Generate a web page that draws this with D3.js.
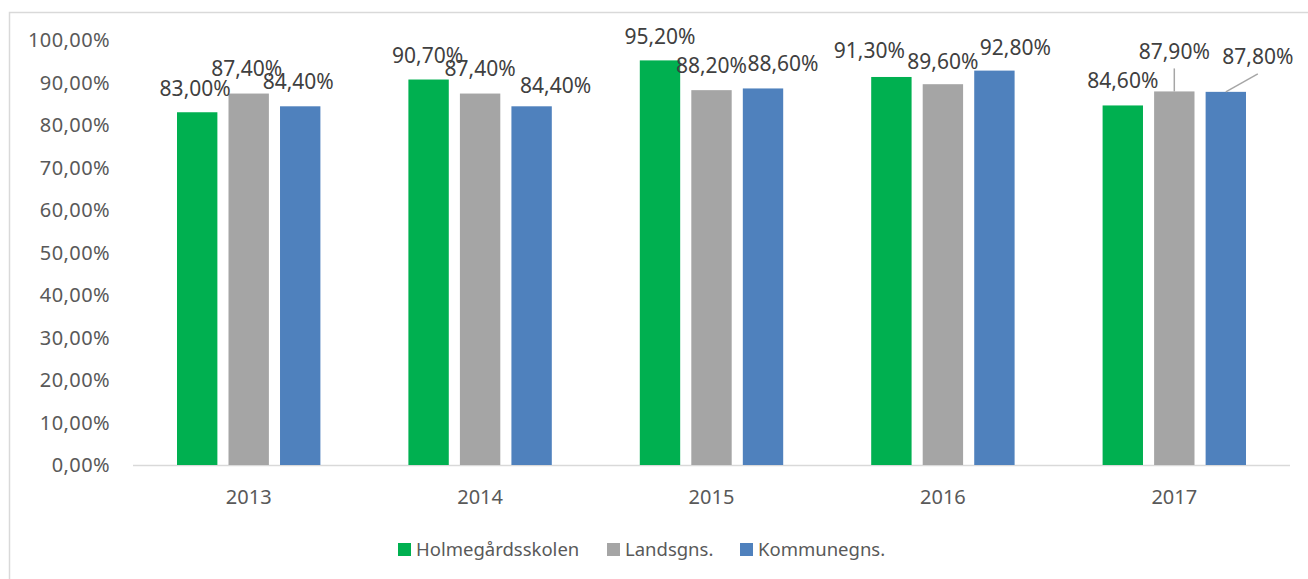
<!DOCTYPE html>
<html>
<head>
<meta charset="utf-8">
<script src="https://cdn.jsdelivr.net/npm/d3@7"></script>
<style>
  html, body { margin: 0; padding: 0; background: #fff; }
  svg text { font-family: "Noto Sans", "Open Sans", sans-serif; }
</style>
</head>
<body>
<div id="chart"></div>
<script>
// data
const years = ["2013", "2014", "2015", "2016", "2017"];
const seriesNames = ["Holmegårdsskolen", "Landsgns.", "Kommunegns."];
const holmegaard = [0.830, 0.907, 0.952, 0.913, 0.846];
const landsgns = [0.874, 0.874, 0.882, 0.896, 0.879];
const kommunegns = [0.844, 0.844, 0.886, 0.928, 0.878];
const yTicks = [0, 0.1, 0.2, 0.3, 0.4, 0.5, 0.6, 0.7, 0.8, 0.9, 1.0];

const seriesValues = [holmegaard, landsgns, kommunegns];
const colors = ["#00b050", "#a5a5a5", "#4f81bd"];

// manual label offsets (label layout, per series per year)
const labelNudge = [
  [[-2, 0], [-1, 0], [0, 0], [-22, -3], [0, -1]],
  [[-2, -1], [0, -1], [0, -1], [0, 1], [0, -16]],
  [[-2, -1], [24, 3], [20, -1], [21, 1], [32, -11]]
];

const width = 1308, height = 579;
const svg = d3.select("#chart").append("svg")
  .attr("width", width)
  .attr("height", height);

// outer chart border
svg.append("rect")
  .attr("x", 9.5).attr("y", 12.5)
  .attr("width", 1400).attr("height", 700)
  .attr("fill", "none")
  .attr("stroke", "#d9d9d9")
  .attr("stroke-width", 1.5);

const locale = d3.formatLocale({ decimal: ",", thousands: ".", grouping: [3], currency: ["", " kr"] });
const fmt = locale.format(".2%");

const x = d3.scaleBand().domain(years).range([133, 1290]);
const xInner = d3.scaleBand().domain(d3.range(3)).range([44, 187.4]).paddingInner(0.216);
const y = d3.scaleLinear().domain([0, 1]).range([465, 40]);

// y axis tick labels
svg.append("g")
  .selectAll("text")
  .data(yTicks)
  .join("text")
  .attr("x", 110)
  .attr("y", d => y(d))
  .attr("dy", "0.36em")
  .attr("text-anchor", "end")
  .attr("fill", "#595959")
  .style("font-size", "20px")
  .style("letter-spacing", "0.4px")
  .text(d => fmt(d));

// x axis line
svg.append("line")
  .attr("x1", 133).attr("x2", 1290)
  .attr("y1", y(0) + 0.5).attr("y2", y(0) + 0.5)
  .attr("stroke", "#d9d9d9")
  .attr("stroke-width", 1.5);

// year labels
svg.append("g")
  .selectAll("text")
  .data(years)
  .join("text")
  .attr("x", d => x(d) + x.bandwidth() / 2)
  .attr("y", 497)
  .attr("dy", "0.36em")
  .attr("text-anchor", "middle")
  .attr("fill", "#595959")
  .style("font-size", "20px")
  .text(d => d);

// bars
const groups = svg.append("g")
  .selectAll("g")
  .data(seriesValues)
  .join("g")
  .attr("fill", (d, i) => colors[i]);

groups.each(function(vals, si) {
  d3.select(this).selectAll("rect")
    .data(vals)
    .join("rect")
    .attr("x", (d, i) => x(years[i]) + xInner(si))
    .attr("width", xInner.bandwidth())
    .attr("y", d => y(d))
    .attr("height", d => y(0) - y(d));
});

// data labels
const labelData = [];
seriesValues.forEach((vals, si) => {
  vals.forEach((v, i) => {
    const cx = x(years[i]) + xInner(si) + xInner.bandwidth() / 2;
    const top = y(v);
    const [dx, dy] = labelNudge[si][i];
    labelData.push({ v, cx, top, lx: cx + dx, ly: top - 24 + dy, leader: dy < -8 });
  });
});

svg.append("g")
  .selectAll("line")
  .data(labelData.filter(d => d.leader))
  .join("line")
  .attr("x1", d => d.lx)
  .attr("y1", d => d.ly + 17)
  .attr("x2", d => d.cx)
  .attr("y2", d => d.top)
  .attr("stroke", "#a6a6a6")
  .attr("stroke-width", 1.5);

svg.append("g")
  .selectAll("text")
  .data(labelData)
  .join("text")
  .attr("x", d => d.lx)
  .attr("y", d => d.ly)
  .attr("dy", "0.36em")
  .attr("text-anchor", "middle")
  .attr("fill", "#404040")
  .style("font-size", "21px")
  .text(d => fmt(d.v));

// legend
const legendX = [398, 607, 740];
const legend = svg.append("g")
  .selectAll("g")
  .data(seriesNames)
  .join("g")
  .attr("transform", (d, i) => `translate(${legendX[i]},543)`);

legend.append("rect")
  .attr("width", 13).attr("height", 13)
  .attr("fill", (d, i) => colors[i]);

legend.append("text")
  .attr("x", 18)
  .attr("y", 6.5)
  .attr("dy", "0.36em")
  .attr("fill", "#595959")
  .style("font-size", "18.5px")
  .text(d => d);
</script>
</body>
</html>
